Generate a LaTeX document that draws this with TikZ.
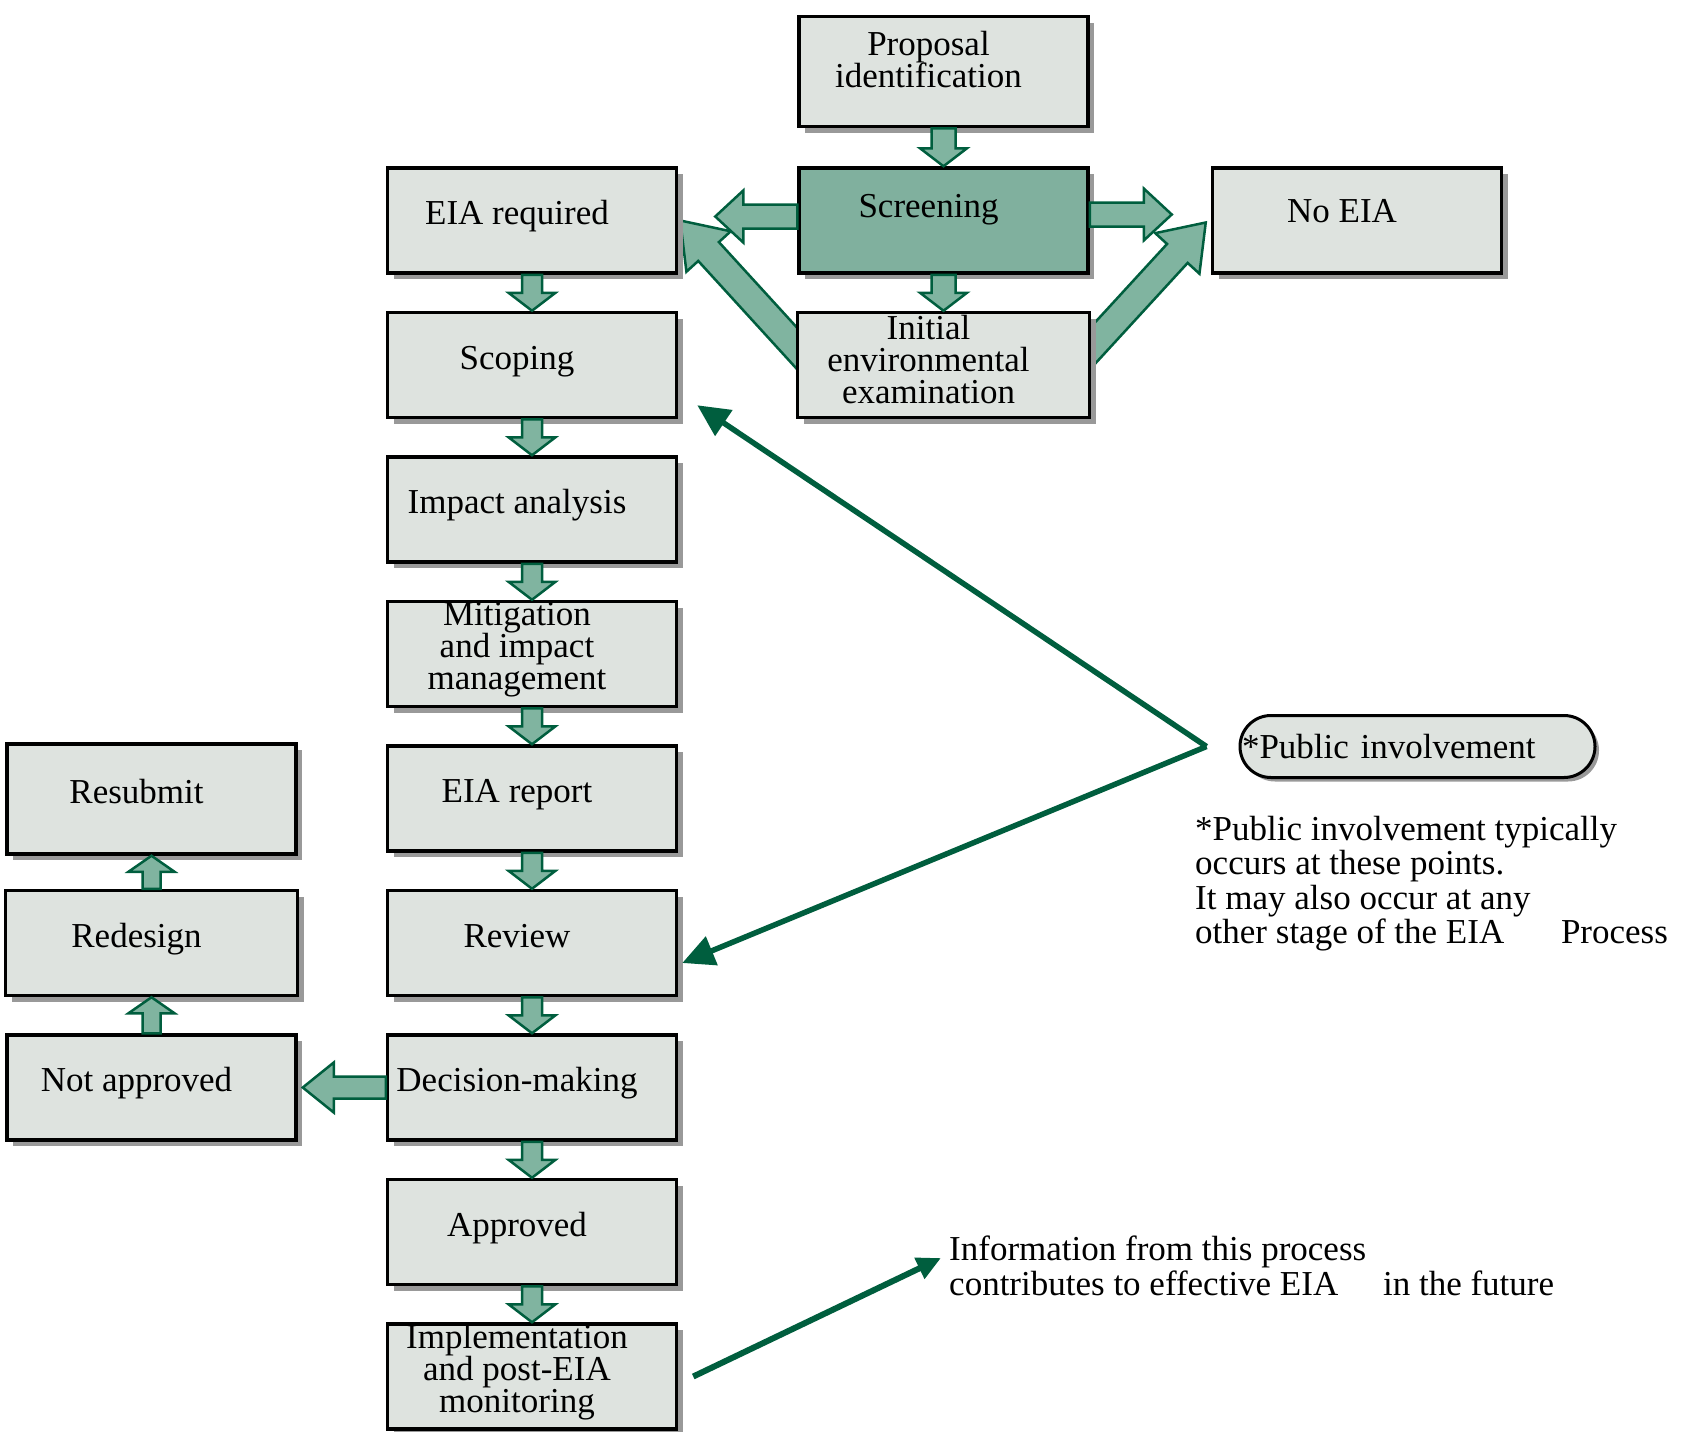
\documentclass[tikz,border=0pt]{standalone}
\usepackage{fontspec}
\setmainfont{Liberation Serif}
\usetikzlibrary{positioning,calc,shadows,arrows.meta}
\definecolor{boxfill}{RGB}{222,227,223}
\definecolor{screenfill}{RGB}{128,176,158}
\definecolor{arrowfill}{RGB}{128,180,160}
\definecolor{dkgreen}{RGB}{0,94,62}
\definecolor{shadowgray}{RGB}{153,153,153}
\pgfdeclarelayer{background}
\pgfsetlayers{background,main}
\newcommand{\stacked}[1]{\vbox{\lineskiplimit=-100pt\let\\\cr\halign{\hfil##\hfil\cr#1\crcr}}}
\newcommand{\blockarrow}[5]{\coordinate (ba-h) at ($(#2)!#5!(#1)$);
        \draw[blockarr] ($(#1)!#3!-90:(#2)$) -- ($(ba-h)!#3!-90:(#2)$) -- ($(ba-h)!#4!-90:(#2)$) -- (#2)
                -- ($(ba-h)!#4!90:(#2)$) -- ($(ba-h)!#3!90:(#2)$) -- ($(#1)!#3!90:(#2)$) -- cycle;}
\tikzset{
        eiabox/.style={draw, line width=3.5pt, fill=boxfill, minimum width=289pt, minimum height=105pt,
                font=\fontsize{35}{32}\selectfont,
                drop shadow={shadow xshift=6pt, shadow yshift=-6pt, fill=shadowgray, opacity=1},
                execute at end node={\hspace*{30pt}}},
        oneline/.style={text height=24pt, text depth=16pt},
        multi/.style={inner ysep=0pt, text depth=#1},
        pill/.style={draw, line width=3pt, fill=boxfill, rounded corners=31pt, minimum height=62pt,
                text width=351pt, inner xsep=2pt, align=left, font=\fontsize{35}{30}\selectfont,
                drop shadow={shadow xshift=4pt, shadow yshift=-4pt, fill=shadowgray, opacity=1}},
        blockarr/.style={draw=dkgreen, fill=arrowfill, line width=2.5pt, line join=miter},
        publine/.style={draw=dkgreen, line width=5.5pt, -{Triangle[length=32pt,width=30pt]}},
        note/.style={anchor=north west, align=left, inner sep=0pt, font=\fontsize{35}{34.5}\selectfont}
}

\begin{document}
\begin{tikzpicture}[x=1pt, y=-1pt, node distance=36pt]
        \useasboundingbox (0,0) rectangle (1681,1432);

        \node[eiabox, oneline, fill=screenfill, text depth=30pt] (screen) at (943.5,220.5) {Screening};
        \node[eiabox, multi=24pt, minimum height=110pt] (prop) at (943.5,71.5) {\stacked{Proposal\\identification}};
        \node[eiabox, multi=12pt, below=of screen, minimum width=292pt] (iee) {\stacked{Initial\\environmental\\examination}};
        \node[eiabox, oneline, right=121pt of screen, text depth=20pt] (noeia) {No EIA};

        \node[eiabox, oneline] (eiareq) at (532,220.5) {EIA required};
        \node[eiabox, oneline, below=of eiareq] (scoping) {Scoping};
        \node[eiabox, oneline, below=of scoping] (impact) {Impact analysis};
        \node[eiabox, multi=16pt, below=of impact] (mitig) {\stacked{Mitigation\\and impact\\management}};
        \node[eiabox, oneline, below=of mitig] (report) {EIA report};
        \node[eiabox, oneline, below=of report] (review) {Review};
        \node[eiabox, oneline, below=of review] (decision) {Decision-making};
        \node[eiabox, oneline, below=of decision] (approved) {Approved};
        \node[eiabox, multi=16pt, below=of approved] (impl) {\stacked{Implementation\\and post-EIA\\monitoring}};

        \node[eiabox, oneline, left=88pt of decision] (notapp) {Not approved};
        \node[eiabox, oneline, above=of notapp, minimum width=292pt] (redesign) {Redesign};
        \node[eiabox, oneline, above=33pt of redesign, minimum height=110pt] (resubmit) {Resubmit};

        \node[pill] (public) at (1417.5,746.5) {*Public involvement};
        \node[note] (footnote) at (1195,816) {*Public involvement typically\\occurs at these points.\\It may also occur at any\\other stage of the EIA\hspace{48pt} Process};
        \node[note] (info) at (949,1236) {Information from this process\\contributes to effective EIA\hspace{36pt} in the future};

        \blockarrow{prop.south}{screen.north}{12pt}{23.5pt}{18pt}
        \blockarrow{screen.south}{iee.north}{12pt}{23.5pt}{18pt}
        \coordinate (scrLs) at ([yshift=4pt]screen.west);
        \coordinate (scrL) at ([xshift=-82pt]scrLs);
        \coordinate (scrRs) at ([yshift=6pt]screen.east);
        \coordinate (scrR) at ([xshift=82pt]scrRs);
        \blockarrow{scrLs}{scrL}{12pt}{26pt}{28pt}
        \blockarrow{scrRs}{scrR}{12pt}{26pt}{28pt}

        \coordinate (ieeL) at ([shift={(21,5)}]iee.west);
        \coordinate (reqtip) at ([xshift=2pt]eiareq.east);
        \coordinate (ieeR) at ([shift={(-20,4)}]iee.east);
        \coordinate (notip) at ([shift={(-5,2)}]noeia.west);
        \begin{pgfonlayer}{background}
                \blockarrow{ieeL}{reqtip}{14pt}{30pt}{42pt}
                \blockarrow{ieeR}{notip}{14pt}{30pt}{42pt}
        \end{pgfonlayer}

        \foreach \a/\b in {eiareq/scoping, scoping/impact, impact/mitig, mitig/report,
                report/review, review/decision, decision/approved, approved/impl}
                {\blockarrow{\a.south}{\b.north}{10pt}{23.5pt}{18pt}}

        \coordinate (natip) at ([xshift=5pt]notapp.east);
        \blockarrow{decision.west}{natip}{11pt}{25pt}{31pt}
        \blockarrow{notapp.north}{redesign.south}{9pt}{23pt}{16pt}
        \blockarrow{redesign.north}{resubmit.south}{9pt}{23pt}{16pt}

        \coordinate (apex) at ([xshift=-32pt]public.west);
        \draw[publine] (apex) -- ([shift={(19,-14)}]scoping.south east);
        \draw[publine] (apex) -- ([shift={(4,20)}]review.east);
        \draw[draw=dkgreen, line width=6pt, -{Triangle[length=24pt,width=22pt]}]
                ([xshift=15pt]impl.east) -- ([shift={(-8,22)}]info.north west);
\end{tikzpicture}
\end{document}
